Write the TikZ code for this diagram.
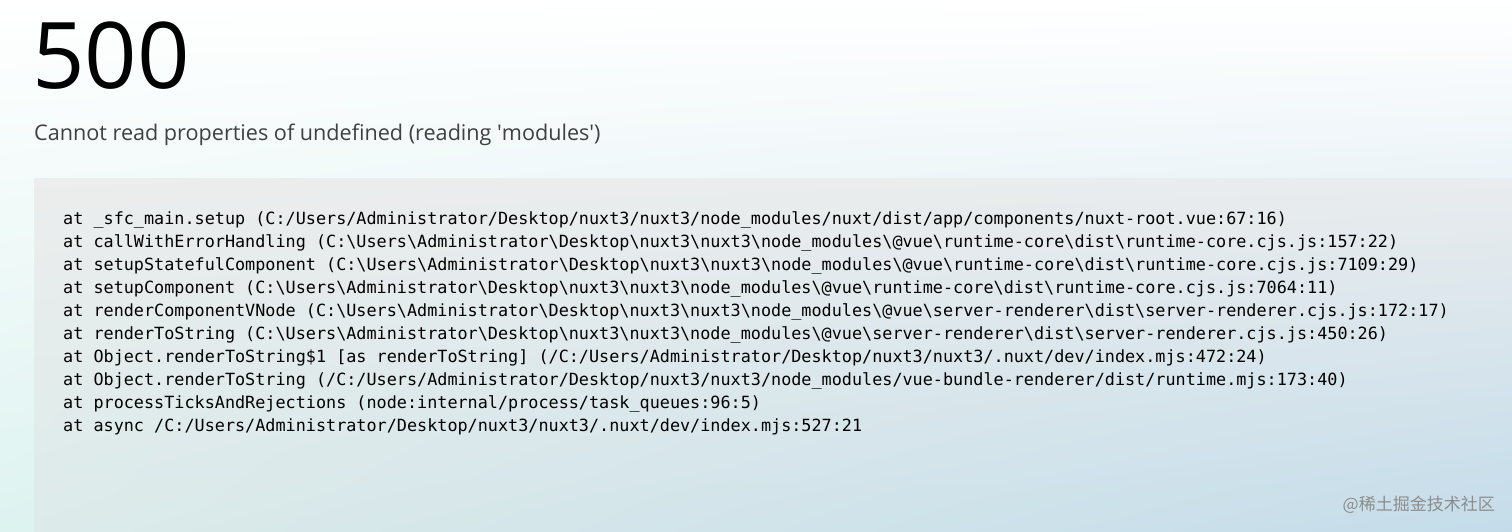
\documentclass[tikz,border=0pt]{standalone}
\usepackage{fontspec}
\usetikzlibrary{shadings}
\setmainfont{Open Sans}
\newfontfamily\codefont{DejaVu Sans Mono}
\newfontfamily\cjk{Noto Sans CJK SC}
\newcommand{\bs}{\textbackslash}
\definecolor{boxgray}{HTML}{ECEDED}
\definecolor{boxgray2}{HTML}{E9ECEE}
\definecolor{boxbl}{HTML}{DCEBEA}
\definecolor{boxblue}{HTML}{C4DCEA}
\definecolor{pagemint}{HTML}{DDF3F0}
\begin{document}
\begin{tikzpicture}[x=1pt,y=-1pt,
  codeline/.style={anchor=base west,inner sep=0pt,font=\codefont\fontsize{16.8}{20}\selectfont,text=black}]
\useasboundingbox (0,0) rectangle (1512,532);
\shade[upper left=white,upper right=white,lower left=pagemint,lower right=boxblue] (0,0) rectangle (1512,532);
\shade[upper left=boxgray,upper right=boxgray2,lower left=boxbl,lower right=boxblue] (34,178) rectangle (1512,532);
\node[anchor=base west,inner sep=0pt,font=\fontsize{92}{100}\selectfont] (code) at (32,89) {500};
\node[anchor=base west,inner sep=0pt,font=\fontsize{21.6}{26}\selectfont,text=black!75] (msg) at (34,141) {Cannot read properties of undefined (reading \textquotesingle modules\textquotesingle)};
\node[codeline] (l1) at (63,224) {at \_sfc\_main.setup (C:/Users/Administrator/Desktop/nuxt3/nuxt3/node\_modules/nuxt/dist/app/components/nuxt-root.vue:67:16)};
\node[codeline] (l2) at (63,247) {at callWithErrorHandling (C:\bs Users\bs Administrator\bs Desktop\bs nuxt3\bs nuxt3\bs node\_modules\bs @vue\bs runtime-core\bs dist\bs runtime-core.cjs.js:157:22)};
\node[codeline] (l3) at (63,270) {at setupStatefulComponent (C:\bs Users\bs Administrator\bs Desktop\bs nuxt3\bs nuxt3\bs node\_modules\bs @vue\bs runtime-core\bs dist\bs runtime-core.cjs.js:7109:29)};
\node[codeline] (l4) at (63,293) {at setupComponent (C:\bs Users\bs Administrator\bs Desktop\bs nuxt3\bs nuxt3\bs node\_modules\bs @vue\bs runtime-core\bs dist\bs runtime-core.cjs.js:7064:11)};
\node[codeline] (l5) at (63,316) {at renderComponentVNode (C:\bs Users\bs Administrator\bs Desktop\bs nuxt3\bs nuxt3\bs node\_modules\bs @vue\bs server-renderer\bs dist\bs server-renderer.cjs.js:172:17)};
\node[codeline] (l6) at (63,339) {at renderToString (C:\bs Users\bs Administrator\bs Desktop\bs nuxt3\bs nuxt3\bs node\_modules\bs @vue\bs server-renderer\bs dist\bs server-renderer.cjs.js:450:26)};
\node[codeline] (l7) at (63,362) {at Object.renderToString\$1 [as renderToString] (/C:/Users/Administrator/Desktop/nuxt3/nuxt3/.nuxt/dev/index.mjs:472:24)};
\node[codeline] (l8) at (63,385) {at Object.renderToString (/C:/Users/Administrator/Desktop/nuxt3/nuxt3/node\_modules/vue-bundle-renderer/dist/runtime.mjs:173:40)};
\node[codeline] (l9) at (63,408) {at processTicksAndRejections (node:internal/process/task\_queues:96:5)};
\node[codeline] (l10) at (63,431) {at async /C:/Users/Administrator/Desktop/nuxt3/nuxt3/.nuxt/dev/index.mjs:527:21};
\node[anchor=base east,inner sep=0pt,font=\cjk\fontsize{17}{20}\selectfont,text=black!45] (wm) at (1495,510) {@稀土掘金技术社区};
\end{tikzpicture}
\end{document}
